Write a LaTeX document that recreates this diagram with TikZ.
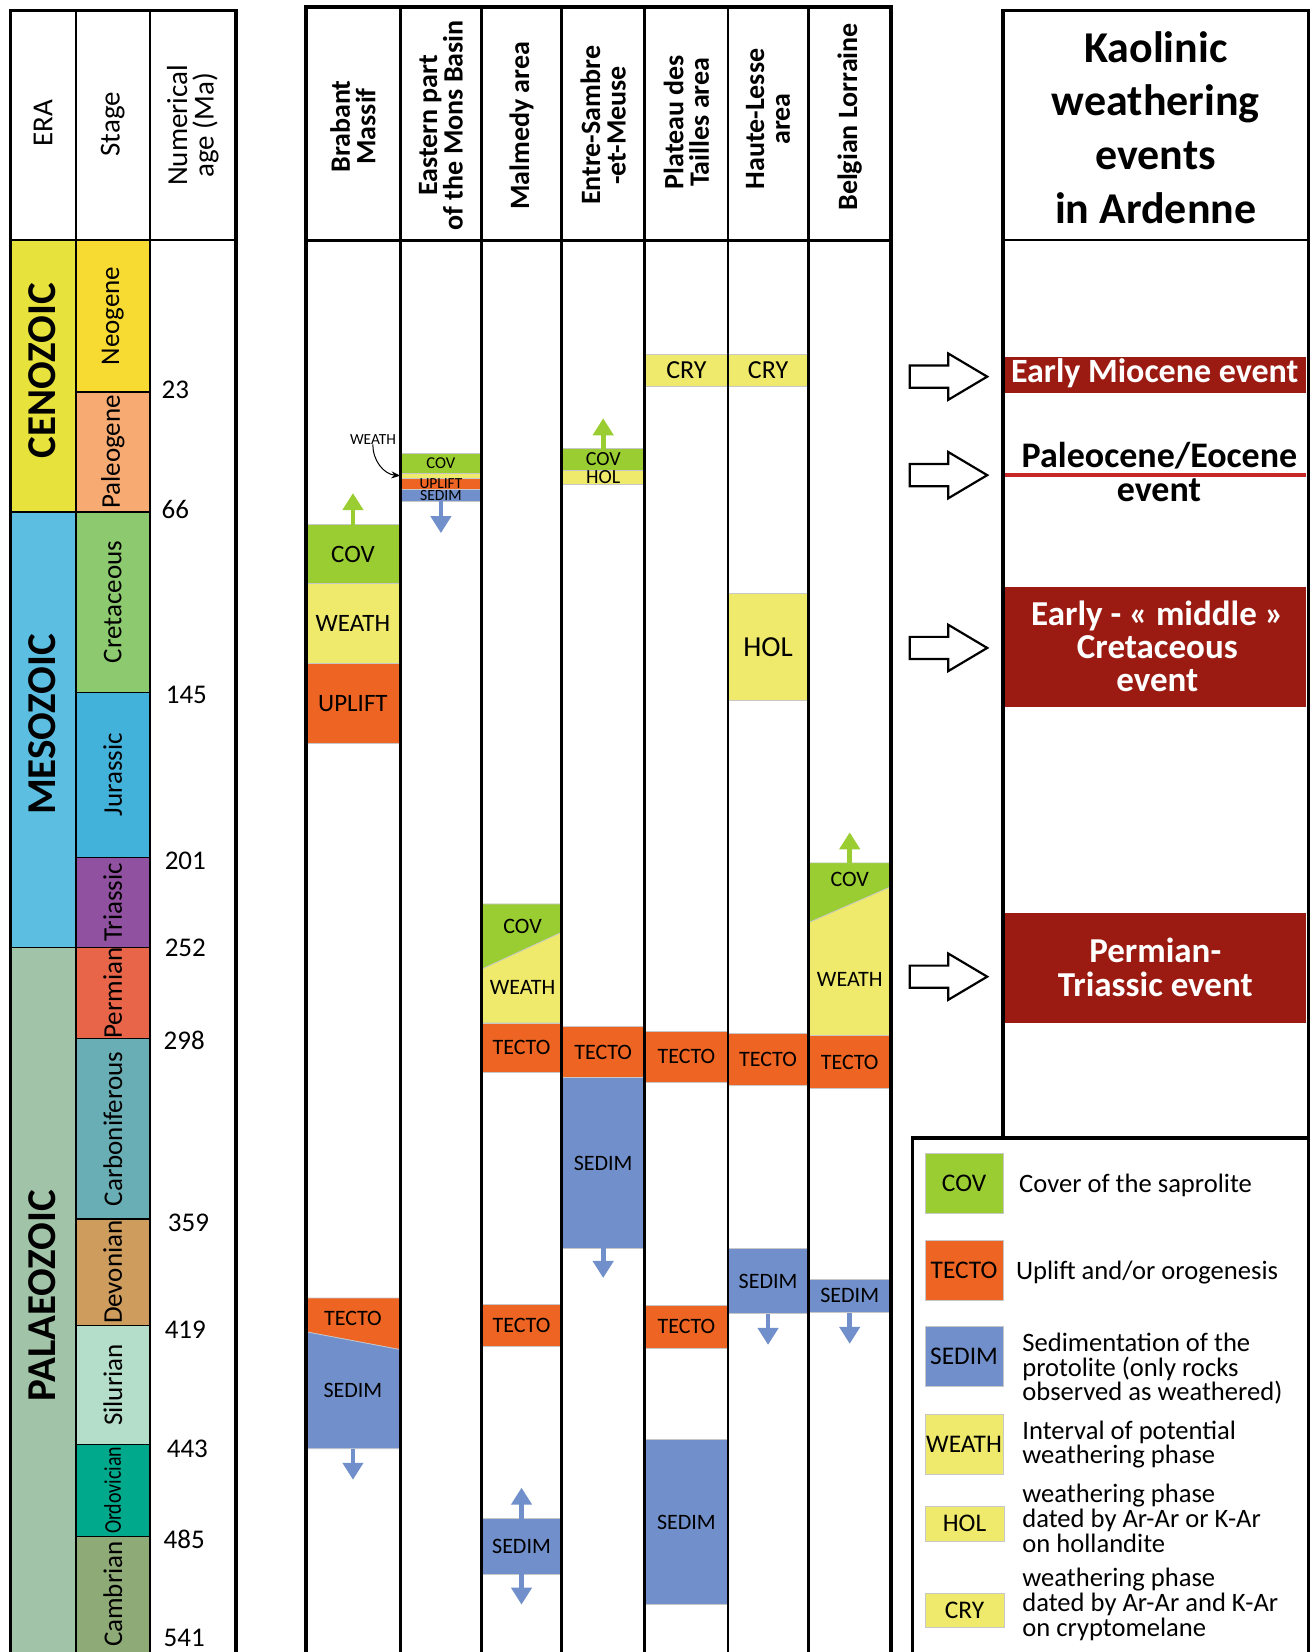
\documentclass[tikz,border=0pt]{standalone}
\usepackage{fontspec}
\setmainfont{Carlito}
\newfontfamily\condfont[FakeStretch=0.83]{Carlito}
\usetikzlibrary{arrows.meta}
\definecolor{cov}{HTML}{9ACD32}
\definecolor{wea}{HTML}{EFEA6B}
\definecolor{tec}{HTML}{EE6422}
\definecolor{sed}{HTML}{7190CB}
\definecolor{evred}{HTML}{9B1B12}
\definecolor{paleo}{HTML}{C62828}
\definecolor{ceno}{HTML}{E8E23C}
\definecolor{meso}{HTML}{5CBFE1}
\definecolor{palz}{HTML}{A1C4A8}
\definecolor{sNeo}{HTML}{F8DB32}
\definecolor{sPal}{HTML}{F7AA72}
\definecolor{sCre}{HTML}{8CC96F}
\definecolor{sJur}{HTML}{43B2DB}
\definecolor{sTri}{HTML}{9151A1}
\definecolor{sPer}{HTML}{E96549}
\definecolor{sCar}{HTML}{69AEB5}
\definecolor{sDev}{HTML}{CE9D5D}
\definecolor{sSil}{HTML}{B4DEC9}
\definecolor{sOrd}{HTML}{00A88C}
\definecolor{sCam}{HTML}{8EAB77}
\tikzset{
  fs/.style={font=\fontsize{#1}{#1}\selectfont},
  lbl/.style={inner sep=0pt, outer sep=0pt},
  barn/.style={inner sep=0pt, outer sep=0pt, draw=black!22, line width=0.35pt},
  vup/.style={draw=#1, line width=2.4pt, -{Triangle[width=10pt,length=8.5pt]}},
  tbout/.style={line width=1.8pt, line join=miter},
  tbin/.style={line width=1pt},
  colln/.style={line width=1.4pt},
  hdr/.style={rotate=90, align=center, inner sep=0pt, font=\bfseries\fontsize{14}{12.8}\selectfont},
  lhdr/.style={rotate=90, align=center, inner sep=0pt, font=\fontsize{14.5}{13.2}\selectfont},
  eralbl/.style={rotate=90, inner sep=0pt, font=\bfseries\fontsize{20.5}{20.5}\selectfont},
  stg/.style={rotate=90, inner sep=0pt, font=\fontsize{13.5}{13.5}\selectfont},
  numt/.style={anchor=west, inner sep=0pt, font=\fontsize{13.5}{13.5}\selectfont},
  evw/.style={anchor=base, inner sep=0pt, text=white, font=\bfseries\fontsize{17.5}{17.5}\selectfont},
  evwm/.style={anchor=base, inner sep=0pt, text=white, font=\bfseries\fontsize{17}{17}\selectfont},
  evb/.style={anchor=base, inner sep=0pt, text=black, font=\bfseries\fontsize{18}{18}\selectfont},
  ttl/.style={anchor=base, inner sep=0pt, font=\bfseries\fontsize{22}{22}\selectfont},
  legt/.style={anchor=base west, inner sep=0pt, font=\fontsize{13.3}{13.3}\selectfont},
  harrow/.style={draw=black, fill=white, line width=1.1pt, line join=miter},
  boxln/.style={draw=black, line width=0.6pt}
}
% name, x1, y1, x2, y2, fill, font size, text
\newcommand{\barbox}[8]{%
  \node[barn, fill=#6, minimum width={(#4-#2)*0.5269pt}, minimum height={(#5-#3)*0.5269pt}] (#1) at ({(#2+#4)/2},{(#3+#5)/2}) {};
  \node[lbl, fs=#7] (#1-t) at (#1.center) {#8};}
\begin{document}
\begin{tikzpicture}[x=0.5269pt,y=-0.5269pt]
\useasboundingbox (0,0) rectangle (1245,1568);
\fill[white] (0,0) rectangle (1245,1568);

% ---------- left table: eras and stages
\filldraw[fill=ceno, boxln] (10,228) rectangle (72,486);
\filldraw[fill=meso, boxln] (10,486) rectangle (72,899);
\filldraw[fill=palz, boxln] (10,899) rectangle (72,1580);
\foreach \ya/\yb/\col in {228/372/sNeo, 372/486/sPal, 486/657/sCre, 657/814/sJur, 814/899/sTri, 899/986/sPer, 986/1157/sCar, 1157/1258/sDev, 1258/1371/sSil, 1371/1458/sOrd, 1458/1580/sCam}{
  \filldraw[fill=\col, boxln] (72,\ya) rectangle (142,\yb);
}

% ---------- middle table bars
% Brabant Massif
\barbox{bCov}{290}{498}{380}{554}{cov}{12.5}{COV}
\barbox{bWea}{290}{554}{380}{630}{wea}{12.5}{WEATH}
\barbox{bUpl}{290}{630}{380}{706}{tec}{12.5}{UPLIFT}
\coordinate (bCovA) at (335,468);
\draw[vup=cov] (bCov.north) -- (bCovA);
\filldraw[fill=tec, draw=black!22, line width=0.35pt] (290,1232) -- (380,1232) -- (380,1281) -- (290,1264) -- cycle;
\filldraw[fill=sed, draw=black!22, line width=0.35pt] (290,1264) -- (380,1281) -- (380,1375) -- (290,1375) -- cycle;
\node[lbl, fs=11] (bTec-t) at (335,1251) {TECTO};
\node[lbl, fs=11] (bSed-t) at (335,1320) {SEDIM};
\coordinate (bSedB) at (335,1375);
\coordinate (bSedA) at (335,1404.5);
\draw[vup=sed] (bSedB) -- (bSedA);

% Eastern part of the Mons Basin
\barbox{eCov}{380}{430}{457}{449}{cov}{8.3}{COV}
\barbox{eWea}{380}{449}{457}{454}{wea}{8}{}
\barbox{eUpl}{380}{454}{457}{464}{tec}{7.7}{UPLIFT}
\barbox{eSed}{380}{464}{457}{476}{sed}{7.8}{SEDIM}
\coordinate (eSedA) at (418.5,506);
\draw[vup=sed] (eSed.south) -- (eSedA);
\node[lbl, fs=7.7] (wAnn) at (354,417) {WEATH};
\draw[line width=0.5pt, -{Stealth[length=4.5pt,width=3.5pt]}] (wAnn.south) to[out=-92, in=175] (eWea.west);

% Malmedy area
\filldraw[fill=cov, draw=black!22, line width=0.35pt] (457,858) -- (533,858) -- (533,885) -- (457,920) -- cycle;
\filldraw[fill=wea, draw=black!22, line width=0.35pt] (457,920) -- (533,885) -- (533,971) -- (457,971) -- cycle;
\node[lbl, fs=11] (mCov-t) at (496,879) {COV};
\node[lbl, fs=11] (mWea-t) at (496,937) {WEATH};
\barbox{mTec1}{457}{971}{533}{1018}{tec}{11}{TECTO}
\barbox{mTec2}{457}{1238}{533}{1278}{tec}{11}{TECTO}
\barbox{mSed}{457}{1441.5}{533}{1494}{sed}{11}{SEDIM}
\coordinate (mSedU) at (495,1412);
\coordinate (mSedD) at (495,1523);
\draw[vup=sed] (mSed.north) -- (mSedU);
\draw[vup=sed] (mSed.south) -- (mSedD);

% Entre-Sambre-et-Meuse
\barbox{esCov}{533}{426}{612}{446}{cov}{10}{COV}
\barbox{esHol}{533}{446}{612}{460}{wea}{10}{HOL}
\coordinate (esCovA) at (572.5,397);
\draw[vup=cov] (esCov.north) -- (esCovA);
\barbox{esTec}{533}{974}{612}{1023}{tec}{11}{TECTO}
\barbox{esSed}{533}{1023}{612}{1185}{sed}{11}{SEDIM}
\coordinate (esSedA) at (572.5,1213);
\draw[vup=sed] (esSed.south) -- (esSedA);

% Plateau des Tailles
\barbox{pCry}{612}{336}{691}{367}{wea}{13}{CRY}
\barbox{pTec1}{612}{978.5}{691}{1027}{tec}{11}{TECTO}
\barbox{pTec2}{612}{1239}{691}{1279.5}{tec}{11}{TECTO}
\barbox{pSed}{612}{1366.5}{691}{1523}{sed}{11}{SEDIM}

% Haute-Lesse
\barbox{hCry}{691}{336}{767}{367}{wea}{13}{CRY}
\barbox{hHol}{691}{563}{767}{665}{wea}{14.5}{HOL}
\barbox{hTec}{691}{980.5}{767}{1029.7}{tec}{11}{TECTO}
\barbox{hSed}{691}{1185}{767}{1247}{sed}{11}{SEDIM}
\coordinate (hSedA) at (729,1276.5);
\draw[vup=sed] (hSed.south) -- (hSedA);

% Belgian Lorraine
\filldraw[fill=cov, draw=black!22, line width=0.35pt] (767,819) -- (846,819) -- (846,841.5) -- (767,876) -- cycle;
\filldraw[fill=wea, draw=black!22, line width=0.35pt] (767,876) -- (846,841.5) -- (846,983) -- (767,983) -- cycle;
\node[lbl, fs=11] (lCov-t) at (806.5,835) {COV};
\node[lbl, fs=11] (lWea-t) at (806.5,930) {WEATH};
\coordinate (lTop) at (806.5,819);
\coordinate (lTopA) at (806.5,790);
\draw[vup=cov] (lTop) -- (lTopA);
\barbox{lTec}{767}{983}{846}{1033}{tec}{11}{TECTO}
\barbox{lSed}{767}{1214}{846}{1246}{sed}{11}{SEDIM}
\coordinate (lSedA) at (806.5,1275.5);
\draw[vup=sed] (lSed.south) -- (lSedA);

% ---------- events
\node[lbl, fill=evred, minimum width={286*0.5269pt}, minimum height={34.5*0.5269pt}] (ev1) at (1097,355.75) {};
\node[evwm] (ev1-t) at (1096,363) {Early Miocene event};
\draw[paleo, line width=2.2pt] (954,451) -- (1240,451);
\node[evb] (ev2-a) at (1100.5,444) {Paleocene/Eocene};
\node[evb] (ev2-b) at (1100,476) {event};
\node[lbl, fill=evred, minimum width={286*0.5269pt}, minimum height={114*0.5269pt}] (ev3) at (1097,614) {};
\node[evw] (ev3-a) at (1098.5,594) {Early - « middle »};
\node[evw] (ev3-b) at (1098.5,625) {Cretaceous};
\node[evw] (ev3-c) at (1098.5,656.6) {event};
\node[lbl, fill=evred, minimum width={286*0.5269pt}, minimum height={104*0.5269pt}] (ev4) at (1097,919) {};
\node[evw] (ev4-a) at (1096.5,914) {Permian-};
\node[evw] (ev4-b) at (1096.5,946) {Triassic event};

\foreach \c in {357.5,451,615,927}{
  \draw[harrow] (863.5,\c-10.5) -- (900,\c-10.5) -- (900,\c-22) -- (937,\c) -- (900,\c+22) -- (900,\c+10.5) -- (863.5,\c+10.5) -- cycle;
}

% ---------- legend
\barbox{lgCov}{878}{1095}{952}{1152}{cov}{12.7}{COV}
\barbox{lgTec}{878}{1177.5}{952}{1234.6}{tec}{12.7}{TECTO}
\barbox{lgSed}{878}{1259}{952}{1316}{sed}{12.7}{SEDIM}
\barbox{lgWea}{878}{1342}{952}{1399}{wea}{12.7}{WEATH}
\barbox{lgHol}{878}{1430}{953}{1462.5}{wea}{12.7}{HOL}
\barbox{lgCry}{878}{1512}{953}{1545}{wea}{12.7}{CRY}
\node[legt] (lt1) at (967,1132) {Cover of the saprolite};
\node[legt] (lt2) at (964,1214) {Uplift and/or orogenesis};
\node[legt] (lt3a) at (970,1283) {Sedimentation of the};
\node[legt] (lt3b) at (970,1306.5) {protolite (only rocks};
\node[legt] (lt3c) at (970,1329) {observed as weathered)};
\node[legt] (lt4a) at (970,1366.5) {Interval of potential};
\node[legt] (lt4b) at (970,1388.6) {weathering phase};
\node[legt] (lt5a) at (970,1426) {weathering phase};
\node[legt] (lt5b) at (970,1450) {dated by Ar-Ar or K-Ar};
\node[legt] (lt5c) at (970,1473.5) {on hollandite};
\node[legt] (lt6a) at (970,1506) {weathering phase};
\node[legt] (lt6b) at (970,1529.6) {dated by Ar-Ar and K-Ar};
\node[legt] (lt6c) at (970,1553) {on cryptomelane};

% ---------- table lines
% left table
\draw[tbin] (72,10) -- (72,1580);
\draw[tbin] (142,10) -- (142,1580);
\draw[tbin] (10,228) -- (224,228);
\draw[tbout] (10,1580) -- (10,10) -- (224,10) -- (224,1580);
% middle table
\foreach \xx in {380,457,533,612,691,767}{ \draw[colln] (\xx,7) -- (\xx,1580); }
\draw[colln] (290,228) -- (846,228);
\draw[line width=2pt, line join=miter] (290,1580) -- (290,7) -- (846,7) -- (846,1580);
% right table
\draw[tbin] (952,228) -- (1242,228);
\draw[tbout] (952,1080) -- (952,10) -- (1242,10) -- (1242,1080);
\draw[tbout] (866,1580) -- (866,1080) -- (1242,1080) -- (1242,1580);

% ---------- texts of left table
\node[lhdr] (hEra) at (41,117) {ERA};
\node[lhdr] (hStage) at (107,118) {Stage};
\node[lhdr] (hNum) at (183,119) {Numerical\\age (Ma)};
\node[eralbl] (eCeno) at (40,352) {CENOZOIC};
\node[eralbl] (eMeso) at (40,687.5) {MESOZOIC};
\node[eralbl] (ePalz) at (40,1230) {PALAEOZOIC};
\node[stg] (sNeoT) at (107,300) {Neogene};
\node[stg] (sPalT) at (107,429) {Paleogene};
\node[stg] (sCreT) at (107,571.5) {Cretaceous};
\node[stg] (sJurT) at (107,735.5) {Jurassic};
\node[stg] (sTriT) at (107,856.5) {Triassic};
\node[stg] (sPerT) at (107,942.5) {Permian};
\node[stg] (sCarT) at (107,1071.5) {Carboniferous};
\node[stg] (sDevT) at (107,1207.5) {Devonian};
\node[stg] (sSilT) at (107,1314.5) {Silurian};
\node[stg, font=\condfont\fontsize{12}{12}\selectfont] (sOrdT) at (107,1414.5) {Ordovician};
\node[stg] (sCamT) at (107,1513) {Cambrian};
\node[numt] (n23) at (153,370) {23};
\node[numt] (n66) at (153,484) {66};
\node[numt] (n145) at (157,660) {145};
\node[numt] (n201) at (156,817) {201};
\node[numt] (n252) at (156,900) {252};
\node[numt] (n298) at (155,987) {298};
\node[numt] (n359) at (159,1161) {359};
\node[numt] (n419) at (156,1262) {419};
\node[numt] (n443) at (158,1375) {443};
\node[numt] (n485) at (155,1461) {485};
\node[numt] (n541) at (155,1555) {541};

% ---------- middle headers
\node[hdr] (hBra) at (335,120) {Brabant\\Massif};
\node[hdr] (hMon) at (418.5,119) {Eastern part\\of the Mons Basin};
\node[hdr] (hMal) at (495,119.5) {Malmedy area};
\node[hdr] (hEsm) at (572.5,119) {Entre-Sambre\\-et-Meuse};
\node[hdr] (hPla) at (651.5,116) {Plateau des\\Tailles area};
\node[hdr] (hHau) at (729,113) {Haute-Lesse\\area};
\node[hdr] (hBel) at (806.5,111) {Belgian Lorraine};

% ---------- right header
\node[ttl] (t1) at (1097,59) {Kaolinic};
\node[ttl] (t2) at (1097,110) {weathering};
\node[ttl] (t3) at (1097,161) {events};
\node[ttl] (t4) at (1097,212) {in Ardenne};
\end{tikzpicture}
\end{document}
